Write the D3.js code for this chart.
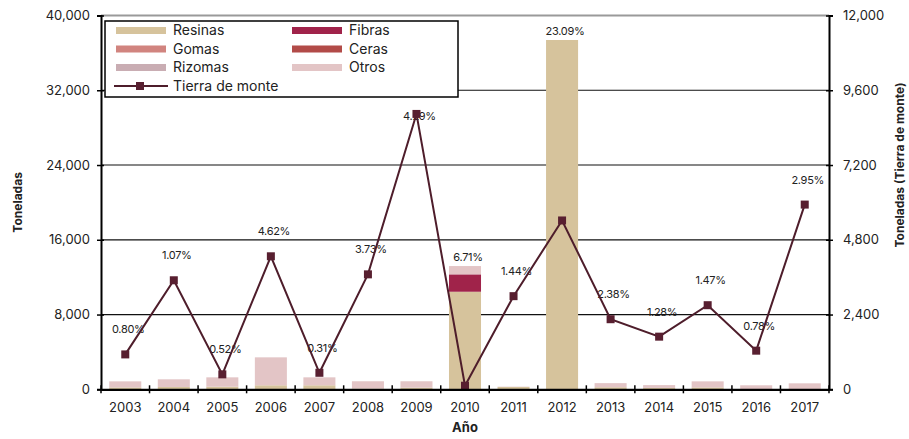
<!DOCTYPE html>
<html><head><meta charset="utf-8">
<script src="https://cdn.jsdelivr.net/npm/d3@7"></script>
<style>
body{margin:0;background:#fff;}
text{font-family:Inter, "Open Sans", sans-serif;fill:#222;}
</style></head>
<body>
<svg id="c" width="909" height="439"></svg>
<script>
const years = ["2003","2004","2005","2006","2007","2008","2009","2010","2011","2012","2013","2014","2015","2016","2017"];
const resinas = [200,250,280,430,430,80,180,10440,250,37380,220,150,200,30,20];
const fibras  = [0,0,0,0,0,0,0,1860,0,0,0,0,0,0,0];
const gomas   = [0,0,0,0,0,0,0,0,0,0,0,0,0,0,0];
const ceras   = [0,0,0,0,0,0,0,0,0,0,0,0,0,0,0];
const rizomas = [0,0,0,0,0,0,0,0,0,0,0,0,0,0,0];
const otros   = [650,820,1000,2990,850,780,680,890,30,0,440,300,650,400,620];
const tierra  = [1120,3500,480,4270,530,3690,8840,115,2990,5420,2250,1690,2700,1240,5930];
const pctLabels = ["0.80%","1.07%","0.52%","4.62%","0.31%","3.73%","4.29%","6.71%","1.44%","23.09%","2.38%","1.28%","1.47%","0.78%","2.95%"];
const leftTicks = [0,8000,16000,24000,32000,40000];
const rightTicks = [0,2400,4800,7200,9600,12000];

const seriesNames = ["Resinas","Fibras","Gomas","Ceras","Rizomas","Otros"];
const seriesVals = [resinas,fibras,gomas,ceras,rizomas,otros];
const colors = {Resinas:"#d6c39c",Fibras:"#a0234a",Gomas:"#d1847f",Ceras:"#b24b48",Rizomas:"#c9adb3",Otros:"#e3c5c6"};
const lineColor = "#4e1d2b", markerColor = "#581f30";

const svg = d3.select("#c");
const L=101, R=829, T=15.5, B=389.3;

const x = d3.scaleBand().domain(years).range([L,R]).paddingInner(0.34).paddingOuter(0.17);
const y = d3.scaleLinear().domain([0,40000]).range([B,T]);
const y2 = d3.scaleLinear().domain([0,12000]).range([B,T]);
const cx = d => x(d)+x.bandwidth()/2;

// gridlines
svg.append("g").selectAll("line").data(leftTicks.filter(v=>v>0)).join("line")
  .attr("x1",L).attr("x2",R).attr("y1",d=>y(d)).attr("y2",d=>y(d))
  .attr("stroke",d=>d===40000?"#9a9a9a":"#111").attr("stroke-width",d=>d===40000?2:1.2);

// stacked bars
const table = years.map((yr,i)=>{const o={year:yr}; seriesNames.forEach((s,k)=>o[s]=seriesVals[k][i]); return o;});
const stack = d3.stack().keys(seriesNames)(table);
svg.append("g").selectAll("g").data(stack).join("g").attr("fill",d=>colors[d.key])
  .selectAll("rect").data(d=>d).join("rect")
  .attr("x",d=>x(d.data.year)).attr("width",x.bandwidth())
  .attr("y",d=>y(d[1])).attr("height",d=>Math.max(0,y(d[0])-y(d[1])));

// percentage labels
const nudge = {"2009":27};
svg.append("g").selectAll("text").data(years).join("text")
  .attr("x",(d)=>cx(d)+3)
  .attr("y",(d,i)=>{
    const top = y(d3.sum(seriesVals,s=>s[i]));
    return Math.min(top-5, y2(tierra[i])-21) + (nudge[d]||0);
  })
  .attr("text-anchor","middle").attr("font-size",11).attr("letter-spacing","-0.3")
  .attr("fill","#333").text((d,i)=>pctLabels[i]);

// line
const line = d3.line().x((d,i)=>cx(years[i])).y(d=>y2(d));
svg.append("path").datum(tierra).attr("d",line).attr("fill","none")
  .attr("stroke",lineColor).attr("stroke-width",2);
svg.append("g").selectAll("rect").data(tierra).join("rect")
  .attr("x",(d,i)=>cx(years[i])-4).attr("y",d=>y2(d)-4).attr("width",8).attr("height",8)
  .attr("fill",markerColor);

// axes
const axL = svg.append("g").attr("transform",`translate(${L},0)`)
  .call(d3.axisLeft(y).tickValues(leftTicks).tickFormat(d3.format(",")).tickSize(4).tickPadding(7));
axL.selectAll(".tick line").attr("x1",3).attr("stroke","#000").attr("stroke-width",1.5);
axL.select(".domain").attr("stroke","#000").attr("stroke-width",2);
axL.selectAll("text").attr("font-size",13).attr("fill","#222");

const axR = svg.append("g").attr("transform",`translate(${R},0)`)
  .call(d3.axisRight(y2).tickValues(rightTicks).tickFormat(d3.format(",")).tickSize(4).tickPadding(10));
axR.selectAll(".tick line").attr("x1",-3).attr("stroke","#000").attr("stroke-width",1.5);
axR.select(".domain").attr("stroke","#000").attr("stroke-width",2);
axR.selectAll("text").attr("font-size",13).attr("fill","#222");

const axB = svg.append("g").attr("transform",`translate(0,${B})`)
  .call(d3.axisBottom(x).tickSize(0).tickPadding(13));
axB.select(".domain").attr("stroke","#000").attr("stroke-width",2.2);
axB.selectAll("text").attr("font-size",13).attr("fill","#222");
const bounds = years.map(d=>x(d)-x.step()*x.paddingInner()/2).concat([R]);
bounds[0]=L;
axB.append("g").selectAll("line").data(bounds).join("line")
  .attr("x1",d=>d).attr("x2",d=>d).attr("y1",-4).attr("y2",4)
  .attr("stroke","#000").attr("stroke-width",1.5);

// axis titles
svg.append("text").attr("transform",`translate(22,${(T+B)/2}) rotate(-90)`)
  .attr("text-anchor","middle").attr("font-weight","bold").attr("font-size",12).text("Toneladas");
svg.append("text").attr("transform",`translate(904,165) rotate(-90)`)
  .attr("text-anchor","middle").attr("font-weight","bold").attr("font-size",12).text("Toneladas (Tierra de monte)");
svg.append("text").attr("x",(L+R)/2).attr("y",432)
  .attr("text-anchor","middle").attr("font-weight","bold").attr("font-size",13).text("Año");

// legend
const lg = svg.append("g");
lg.append("rect").attr("x",105).attr("y",21).attr("width",353).attr("height",76)
  .attr("fill","#fff").attr("stroke","#000").attr("stroke-width",1.5);
const rowsY = [30.5,49,67.5,86];
seriesNames.forEach((s,k)=>{
  const col = k%2, row = Math.floor(k/2);
  const sx = col===0?116:292;
  lg.append("rect").attr("x",sx).attr("y",rowsY[row]-3.5).attr("width",50).attr("height",7).attr("fill",colors[s]);
  lg.append("text").attr("x",sx+57).attr("y",rowsY[row]).attr("dy","0.35em").attr("font-size",14).text(s);
});
lg.append("line").attr("x1",114).attr("x2",168).attr("y1",rowsY[3]).attr("y2",rowsY[3]).attr("stroke",lineColor).attr("stroke-width",2);
lg.append("rect").attr("x",136).attr("y",rowsY[3]-4).attr("width",8).attr("height",8).attr("fill",markerColor);
lg.append("text").attr("x",173).attr("y",rowsY[3]).attr("dy","0.35em").attr("font-size",14).text("Tierra de monte");
</script>
</body></html>
